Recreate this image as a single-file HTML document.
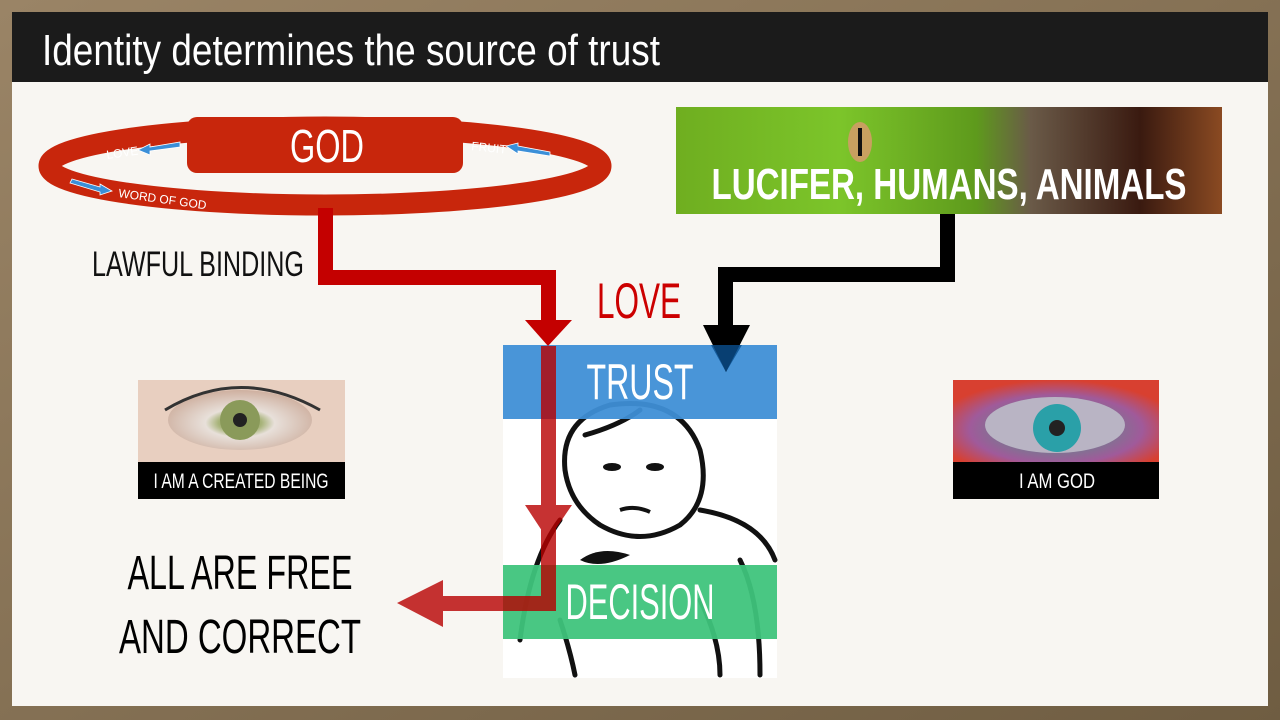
<!DOCTYPE html>
<html><head><meta charset="utf-8"><style>
html,body{margin:0;padding:0;width:1280px;height:720px;overflow:hidden;background:#8a7656}
svg{display:block}
text{font-family:"Liberation Sans Narrow","Liberation Sans",sans-serif}
</style></head><body>
<svg width="1280" height="720" viewBox="0 0 1280 720" xmlns="http://www.w3.org/2000/svg">
<defs>
<linearGradient id="bd" x1="0" y1="0" x2="1" y2="1"><stop offset="0" stop-color="#9a8466"/><stop offset="1" stop-color="#6f5d42"/></linearGradient>
<linearGradient id="sn" x1="0" y1="0" x2="1" y2="0"><stop offset="0" stop-color="#6fae20"/><stop offset="0.3" stop-color="#7cc52a"/><stop offset="0.55" stop-color="#5e9a1c"/><stop offset="0.65" stop-color="#6a5a48"/><stop offset="0.85" stop-color="#3a1a10"/><stop offset="1" stop-color="#8a4a22"/></linearGradient>
<radialGradient id="ey" cx="0.5" cy="0.55" r="0.6"><stop offset="0" stop-color="#7a8a50"/><stop offset="0.25" stop-color="#a8b47a"/><stop offset="0.4" stop-color="#e8e0da"/><stop offset="1" stop-color="#caa896"/></radialGradient>
<radialGradient id="ey2" cx="0.5" cy="0.6" r="0.6"><stop offset="0" stop-color="#123"/><stop offset="0.2" stop-color="#2aa0a8"/><stop offset="0.4" stop-color="#777a90"/><stop offset="0.7" stop-color="#a05a9a"/><stop offset="1" stop-color="#d84030"/></radialGradient>
</defs>
<rect width="1280" height="720" fill="url(#bd)"/>
<rect x="12" y="12" width="1256" height="694" fill="#f8f6f2"/>
<rect x="12" y="12" width="1256" height="70" fill="#1b1b1b"/>
<text x="42" y="65" font-size="44" fill="#fff" textLength="618" lengthAdjust="spacingAndGlyphs">Identity determines the source of trust</text>

<!-- ring -->
<ellipse cx="325" cy="166" rx="276" ry="39" fill="none" stroke="#c8260c" stroke-width="21"/>
<rect x="187" y="117" width="276" height="56" rx="10" fill="#c8260c"/>
<text x="327" y="162" font-size="46" fill="#fff" text-anchor="middle" textLength="74" lengthAdjust="spacingAndGlyphs">GOD</text>
<text x="107" y="159" font-size="12" fill="#fff" transform="rotate(-8 107 159)">LOVE</text>
<polygon points="138,150 150,144 150,147 180,142 180,147 150,151 150,155" fill="#3b8fd8" stroke="#fff" stroke-width="0.8"/>
<text x="471" y="150" font-size="12" fill="#fff" transform="rotate(6 471 150)">FRUIT</text>
<polygon points="506,146 518,143 518,146 550,152 550,156 518,151 518,154" fill="#3b8fd8" stroke="#fff" stroke-width="0.8"/>
<polygon points="72,179 100,187 100,184 112,191 100,195 100,192 70,183" fill="#3b8fd8" stroke="#fff" stroke-width="0.8"/>
<text x="118" y="197" font-size="12" fill="#fff" transform="rotate(8 118 197)">WORD OF GOD</text>

<!-- snake -->
<rect x="676" y="107" width="546" height="107" fill="url(#sn)"/>
<ellipse cx="860" cy="142" rx="12" ry="20" fill="#c8a060"/>
<rect x="858" y="128" width="4" height="28" fill="#111"/>
<text x="949" y="199" font-size="44" font-weight="bold" fill="#fff" text-anchor="middle" textLength="475" lengthAdjust="spacingAndGlyphs">LUCIFER, HUMANS, ANIMALS</text>

<text x="92" y="276" font-size="35" fill="#111" textLength="212" lengthAdjust="spacingAndGlyphs">LAWFUL BINDING</text>
<text x="597" y="318" font-size="50" fill="#c00" textLength="84" lengthAdjust="spacingAndGlyphs">LOVE</text>

<!-- child box -->
<rect x="503" y="345" width="274" height="333" fill="#fff"/>
<g fill="none" stroke="#111" stroke-width="5" stroke-linecap="round">
<path d="M565 470 Q560 420 610 405 Q680 395 700 450 Q712 500 680 525 Q640 548 600 525 Q570 505 565 470"/>
<path d="M585 435 Q620 425 640 410"/>
<path d="M700 510 Q760 520 775 560"/>
<path d="M560 520 Q530 560 520 640"/>
<path d="M740 560 Q760 600 760 675"/>
<path d="M560 620 Q570 650 575 675"/>
<path d="M700 600 Q720 640 720 675"/>
</g>
<ellipse cx="612" cy="467" rx="9" ry="4" fill="#111"/>
<ellipse cx="655" cy="467" rx="9" ry="4" fill="#111"/>
<path d="M620 510 Q635 505 650 512" stroke="#111" stroke-width="4" fill="none"/>
<path d="M580 560 Q600 545 630 555 Q600 570 580 560" fill="#111"/>
<rect x="503" y="345" width="274" height="74" fill="#3f8fd6" fill-opacity="0.95"/>
<rect x="503" y="565" width="274" height="74" fill="#3fc47c" fill-opacity="0.95"/>
<text x="640" y="399" font-size="50" fill="#fff" text-anchor="middle" textLength="107" lengthAdjust="spacingAndGlyphs">TRUST</text>
<text x="640" y="619" font-size="50" fill="#fff" text-anchor="middle" textLength="149" lengthAdjust="spacingAndGlyphs">DECISION</text>

<!-- red connector -->
<g fill="#c40000">
<rect x="318" y="208" width="15" height="77"/>
<rect x="318" y="270" width="238" height="15"/>
<rect x="541" y="270" width="15" height="55"/>
<polygon points="525,320 572,320 548,346"/>
</g>
<g fill="#b80000" opacity="0.8">
<rect x="541" y="346" width="15" height="260"/>
<polygon points="525,505 572,505 548,540"/>
<rect x="440" y="596" width="116" height="15"/>
<polygon points="443,580 443,627 397,603"/>
</g>
<!-- black connector -->
<g fill="#000">
<rect x="940" y="214" width="15" height="68"/>
<rect x="718" y="267" width="237" height="15"/>
<rect x="718" y="267" width="15" height="62"/>
<polygon points="703,325 750,325 726,372"/>
</g>
<polygon points="711,345 742,345 726,372" fill="#0a4f8f" opacity="0.8"/>

<!-- left eye -->
<rect x="138" y="380" width="207" height="82" fill="#e8cfc0"/>
<ellipse cx="240" cy="420" rx="72" ry="30" fill="url(#ey)"/>
<circle cx="240" cy="420" r="20" fill="#8a9a5a"/>
<circle cx="240" cy="420" r="7" fill="#222"/>
<path d="M165 410 Q240 365 320 410" stroke="#333" stroke-width="3" fill="none"/>
<rect x="138" y="462" width="207" height="37" fill="#000"/>
<text x="241" y="488" font-size="21" fill="#fff" text-anchor="middle" textLength="175" lengthAdjust="spacingAndGlyphs">I AM A CREATED BEING</text>

<!-- right eye -->
<rect x="953" y="380" width="206" height="82" fill="url(#ey2)"/>
<ellipse cx="1055" cy="425" rx="70" ry="28" fill="#b9b4c4"/>
<circle cx="1057" cy="428" r="24" fill="#2aa0a8"/>
<circle cx="1057" cy="428" r="8" fill="#222"/>
<rect x="953" y="462" width="206" height="37" fill="#000"/>
<text x="1057" y="488" font-size="21" fill="#fff" text-anchor="middle" textLength="76" lengthAdjust="spacingAndGlyphs">I AM GOD</text>

<text x="240" y="589" font-size="48" fill="#000" text-anchor="middle" textLength="225" lengthAdjust="spacingAndGlyphs">ALL ARE FREE</text>
<text x="240" y="653" font-size="48" fill="#000" text-anchor="middle" textLength="242" lengthAdjust="spacingAndGlyphs">AND CORRECT</text>
</svg>
</body></html>
